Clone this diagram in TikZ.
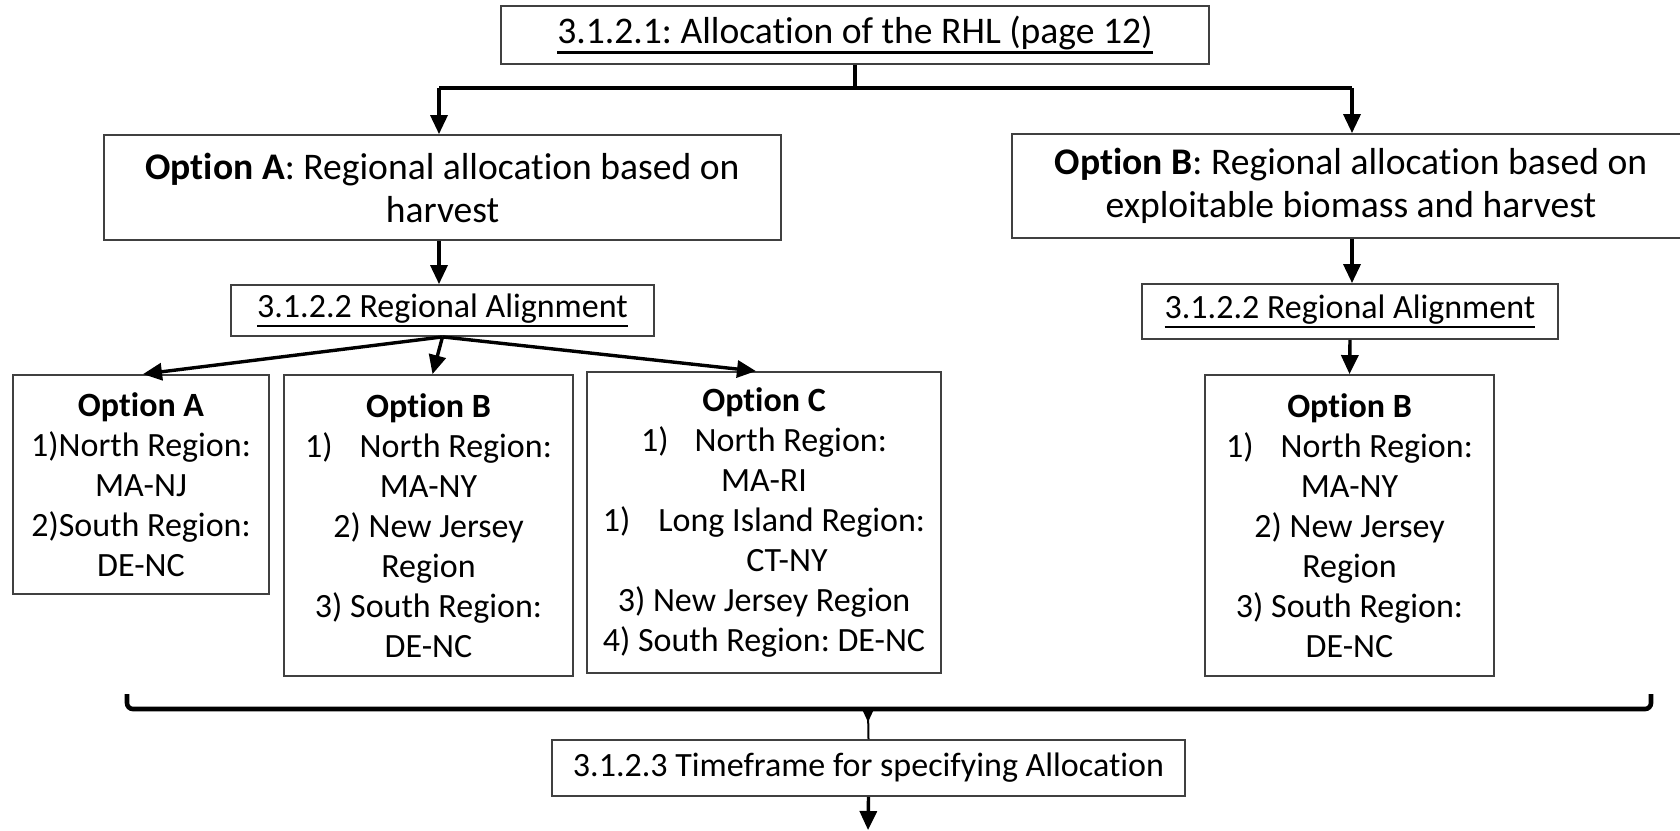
\documentclass[tikz,border=0pt]{standalone}
\usepackage{fontspec}
\setmainfont[RawFeature={-liga;-calt;-dlig;-clig}]{Carlito}
\usetikzlibrary{arrows.meta}
\frenchspacing
\newcommand\myul[1]{\leavevmode\vtop{\hbox{#1}\kern0.6pt\hrule height 1.1pt}}
\begin{document}
\begin{tikzpicture}[x=0.5pt,y=-0.5pt,
  box/.style={draw=black!75, line width=0.9pt, inner sep=0pt, align=center, anchor=center},
  big/.style={font=\fontsize{18.8}{21.5}\selectfont},
  small/.style={font=\fontsize{17}{20}\selectfont},
  conn/.style={line width=1.7pt, black},
  arr/.style={conn, -{Triangle[length=9.5pt,width=8.5pt]}},
  brace/.style={line width=2.3pt, black, rounded corners=3pt}
  ]
\clip (0,0) rectangle (1680,830);
\fill[white] (0,0) rectangle (1680,830);

% nodes
\node[box, big, minimum width=354pt, minimum height=29pt] (top) at (855,35)
  {\myul{3.1.2.1: Allocation of the RHL (page 12)}};
\node[box, big, minimum width=338.5pt, minimum height=52.5pt] (optA) at (442.5,187.5)
  {\textbf{Option A}: Regional allocation based on\\harvest};
\node[box, big, minimum width=339pt, minimum height=52pt] (optB) at (1351,186)
  {\textbf{Option B}: Regional allocation based on\\exploitable biomass and harvest};
\node[box, small, minimum width=211.5pt, minimum height=25.5pt] (raA) at (442.5,310.5)
  {\myul{3.1.2.2 Regional Alignment}};
\node[box, small, minimum width=208pt, minimum height=27.5pt] (raB) at (1350,311.5)
  {\myul{3.1.2.2 Regional Alignment}};
\node[box, small, minimum width=128pt, minimum height=109.5pt] (sA) at (141,484.5)
  {\textbf{Option A}\\1)North Region:\\MA-NJ\\2)South Region:\\DE-NC};
\node[box, small, minimum width=144.5pt, minimum height=150.5pt] (sB) at (428.5,525.5)
  {\textbf{Option B}\\1)\hspace{13.5pt}North Region:\\MA-NY\\2) New Jersey\\Region\\3) South Region:\\DE-NC};
\node[box, small, minimum width=177pt, minimum height=150.5pt] (sC) at (764,522.5)
  {\textbf{Option C}\\1)\hspace{13pt}North Region:\\MA-RI\\1)\hspace{14pt}Long Island Region:\\\hspace*{23pt}CT-NY\\3) New Jersey Region\\4) South Region: DE-NC};
\node[box, small, minimum width=144.5pt, minimum height=150.5pt] (sBr) at (1349.5,525.5)
  {\textbf{Option B}\\1)\hspace{13.5pt}North Region:\\MA-NY\\2) New Jersey\\Region\\3) South Region:\\DE-NC};
\node[box, small, minimum width=316.5pt, minimum height=28pt] (tf) at (868.5,768)
  {3.1.2.3 Timeframe for specifying Allocation};

% coordinates
\coordinate (jl) at (439,88);
\coordinate (jr) at (1352,88);
\coordinate (bl) at (127,694);
\coordinate (br) at (1651,694);
\coordinate (bc) at (868,709);
\coordinate (end) at (868,830);

% connectors
\draw[conn] (top.south) |- (jl);
\draw[conn] (top.south) |- (jr);
\draw[arr] (jl) -- (jl |- optA.north);
\draw[arr] (jr) -- (jr |- optB.north);
\draw[arr] (optA.south -| jl) -- (raA.north -| jl);
\draw[arr] (jr |- optB.south) -- (jr |- raB.north);
\draw[arr] (raB.south) -- (sBr.north);
\draw[arr] (raA.south) -- ([xshift=1pt]sA.north);
\draw[arr] (raA.south) -- ([xshift=2pt]sB.north);
\draw[arr] (raA.south) -- ([xshift=-4pt]sC.north);

% brace
\draw[brace] (bl) -- (bl |- bc) -- (br |- bc) -- (br);
\fill (861,707) -- (875,707) -- (868,722) -- cycle;
\draw[line width=1pt] (bc) -- (tf.north);
\draw[arr] (tf.south) -- (end);
\end{tikzpicture}
\end{document}
